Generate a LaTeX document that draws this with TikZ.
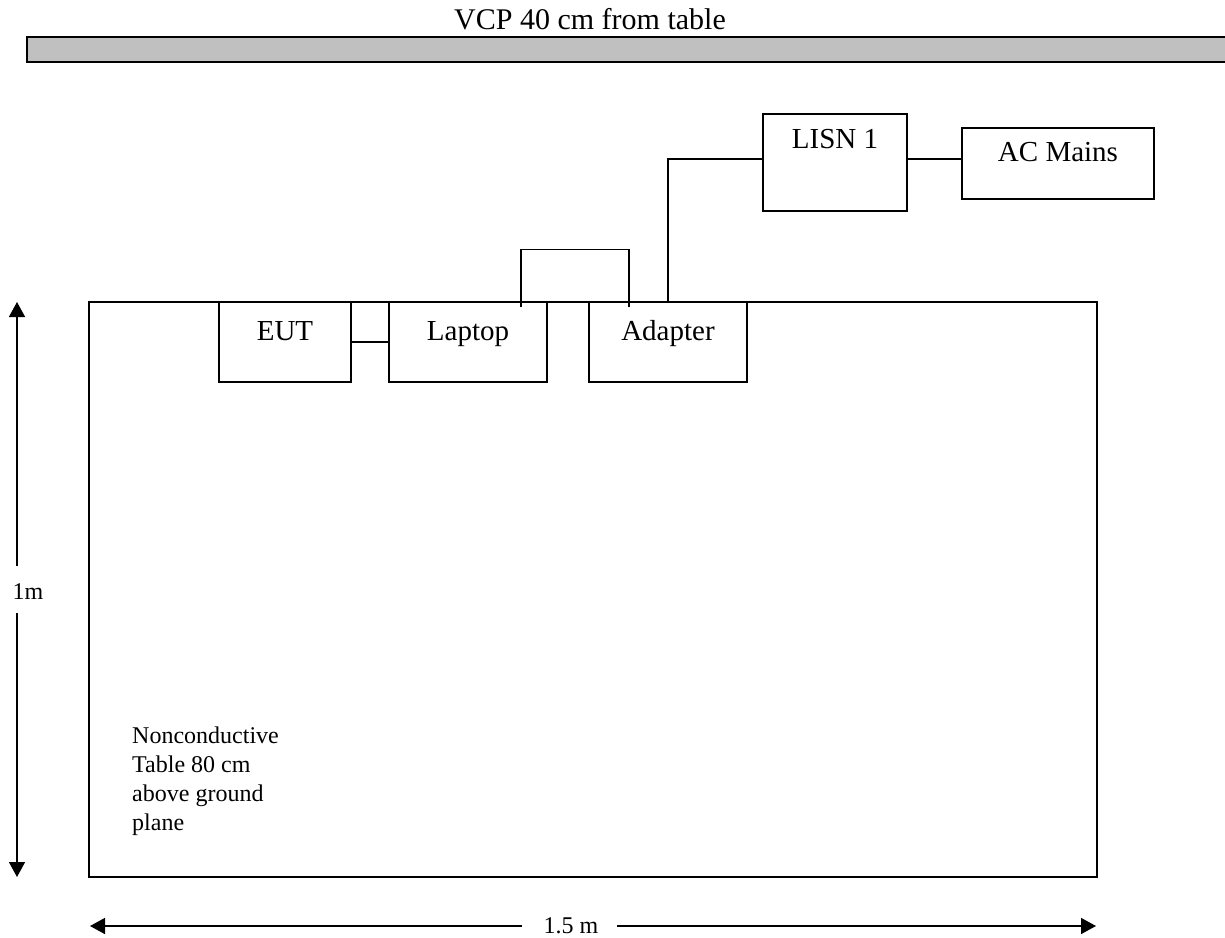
\documentclass[tikz,border=0pt]{standalone}
\usepackage{fontspec}
\setmainfont{Liberation Serif}
\usetikzlibrary{arrows.meta}
\definecolor{barfill}{RGB}{192,192,192}
\begin{document}
\begin{tikzpicture}[x=1pt,y=-1pt,
  box/.style={draw=black, line width=1.5pt, inner sep=0pt},
  wire/.style={draw=black, line width=1.5pt},
  big/.style={font=\fontsize{29}{33}\selectfont, inner sep=0pt, anchor=base},
  small/.style={font=\fontsize{24}{29}\selectfont, inner sep=0pt},
  dim/.style={line width=1.5pt, -{Triangle[length=15pt,width=16pt]}},
]
\useasboundingbox (0,0) rectangle (1225,937);

% VCP bar
\node[box, fill=barfill, minimum width=1212pt, minimum height=25pt, anchor=north west] (vcp) at (26,36) {};
\node[big, font=\fontsize{30}{34}\selectfont] (vcptext) at (590,29) {VCP 40 cm from table};

% table
\node[box, minimum width=1008pt, minimum height=575pt] (table) at (593,589.5) {};
\node[small, align=left, anchor=north west] (note) at (132,727) {Nonconductive\\Table 80 cm\\above ground\\plane};

% boxes
\node[box, minimum width=132pt, minimum height=80pt] (eut) at (285,342) {};
\node[big] at ([yshift=-39pt]eut.north) {EUT};
\node[box, minimum width=158pt, minimum height=80pt] (laptop) at (468,342) {};
\node[big] at ([yshift=-39pt]laptop.north) {Laptop};
\node[box, minimum width=158pt, minimum height=80pt] (adapter) at (668,342) {};
\node[big] at ([yshift=-39pt]adapter.north) {Adapter};
\node[box, minimum width=144pt, minimum height=97pt] (lisn) at (835,162.5) {};
\node[big] at ([yshift=-35pt]lisn.north) {LISN 1};
\node[box, minimum width=192pt, minimum height=71pt] (ac) at (1058,163.5) {};
\node[big] at ([yshift=-34pt]ac.north) {AC Mains};

% connectors
\draw[wire] (eut.east) -- (laptop.west);
\draw[wire] ([xshift=53pt,yshift=-6pt]laptop.north) -- ++(0,-58) -| ([xshift=-39pt,yshift=-6pt]adapter.north);
\draw[wire] (adapter.north) |- ([yshift=3.5pt]lisn.west);
\draw[wire] ([yshift=3.5pt]lisn.east) -- ([yshift=3.5pt]lisn.east -| ac.west);

% dimensions
\coordinate (vtop) at (17,302);
\coordinate (vbot) at (17,877);
\coordinate (vg1) at (17,566);
\coordinate (vg2) at (17,613);
\node[small, anchor=base] (onem) at (28,599) {1m};
\draw[dim] (vg1) -- (vtop);
\draw[dim] (vg2) -- (vbot);

\coordinate (hl) at (90,926);
\coordinate (hr) at (1096,926);
\coordinate (hg1) at (522,926);
\coordinate (hg2) at (617,926);
\node[small, anchor=base] (onefive) at (571,933) {1.5 m};
\draw[dim] (hg1) -- (hl);
\draw[dim] (hg2) -- (hr);
\end{tikzpicture}
\end{document}
